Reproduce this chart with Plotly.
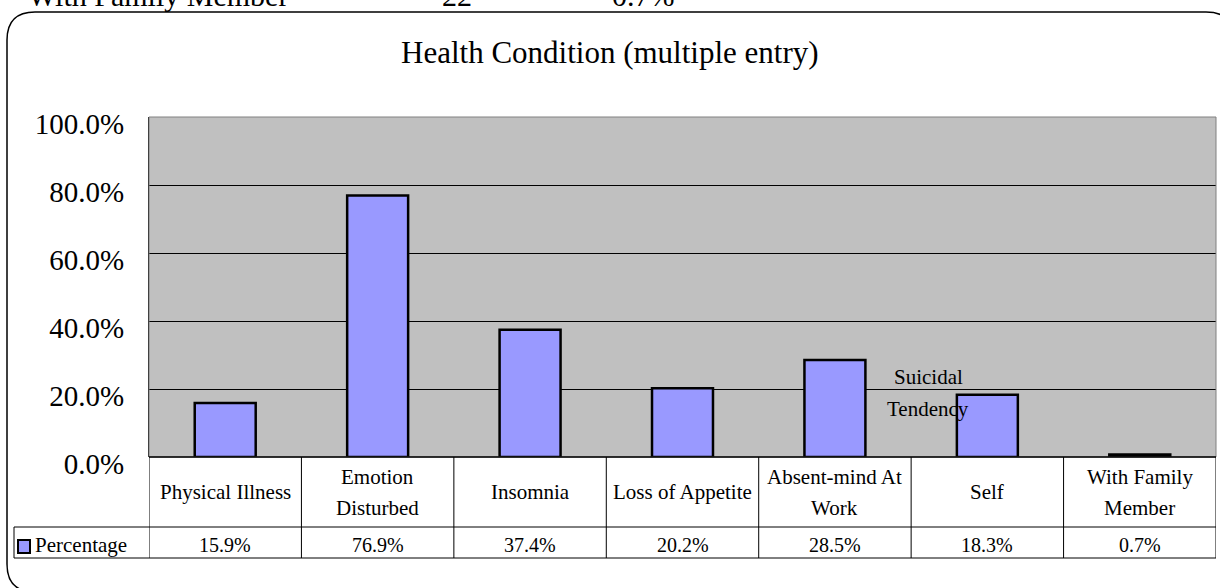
import plotly.graph_objects as go

# ---------------- data ----------------
categories = ["Physical Illness", "Emotion\nDisturbed", "Insomnia", "Loss of Appetite",
              "Absent-mind At\nWork", "Self", "With Family\nMember"]
percentage = [15.9, 76.9, 37.4, 20.2, 28.5, 18.3, 0.7]
series_name = "Percentage"
title_text = "Health Condition (multiple entry)"
y_ticks = [0, 20, 40, 60, 80, 100]
y_tick_labels = [f"{v:.1f}%" for v in y_ticks]
stray_label = ["Suicidal", "Tendency"]
top_row_texts = ["With Family Member", "22", "0.7%"]

# ---------------- geometry (pixels) ----------------
W, H = 1220, 588
L, R, T, B = 149, 1216, 117, 457
PW, PH = R - L, B - T
FONT = "Liberation Serif, Times New Roman, serif"
BAR_FILL = "#9999FF"


def xp(px):
    return (px - L) / PW


def yp(py):
    return (B - py) / PH


fig = go.Figure()
fig.add_trace(go.Bar(
    x=list(range(len(categories))), y=percentage, name=series_name,
    marker=dict(color=BAR_FILL, line=dict(color="black", width=2.5)),
    width=0.4, showlegend=False, hoverinfo="skip",
))

shapes = []
annotations = []

# plot frame (gray)
shapes.append(dict(type="rect", xref="paper", yref="paper", x0=0, x1=1, y0=0, y1=1,
                   line=dict(color="#808080", width=1), layer="above"))

# ---------------- data table ----------------
ROW1_TOP, ROW1_BOT, ROW2_BOT = B, 527, 558
LEG_LEFT = 14
LINE = dict(color="black", width=1)
shapes.append(dict(type="line", xref="paper", yref="paper", x0=0, x1=1,
                   y0=yp(ROW1_TOP), y1=yp(ROW1_TOP), line=dict(color="black", width=1.5)))
for yy in (ROW1_BOT, ROW2_BOT):
    shapes.append(dict(type="line", xref="paper", yref="paper", x0=xp(LEG_LEFT), x1=1,
                       y0=yp(yy), y1=yp(yy), line=LINE))
for i in range(len(categories) + 1):
    shapes.append(dict(type="line", xref="x", yref="paper", x0=i - 0.5, x1=i - 0.5,
                       y0=yp(ROW1_TOP), y1=yp(ROW2_BOT), line=LINE))
shapes.append(dict(type="line", xref="paper", yref="paper", x0=xp(LEG_LEFT), x1=xp(LEG_LEFT),
                   y0=yp(ROW1_BOT), y1=yp(ROW2_BOT), line=LINE))

LINE_GAP = 31
LBL_FONT = dict(family=FONT, size=21, color="black")
VAL_FONT = dict(family=FONT, size=20, color="black")
for i, cat in enumerate(categories):
    parts = cat.split("\n")
    c = (ROW1_TOP + ROW1_BOT) / 2
    start = c - LINE_GAP * (len(parts) - 1) / 2
    for k, part in enumerate(parts):
        annotations.append(dict(xref="x", yref="paper", x=i, y=yp(start + k * LINE_GAP),
                                text=part, showarrow=False, font=LBL_FONT,
                                xanchor="center", yanchor="middle"))
    annotations.append(dict(xref="x", yref="paper", x=i, y=yp(545),
                            text=f"{percentage[i]:.1f}%", showarrow=False, font=VAL_FONT,
                            xanchor="center", yanchor="middle"))

# legend key in table
shapes.append(dict(type="rect", xref="paper", yref="paper", x0=xp(18), x1=xp(30),
                   y0=yp(553), y1=yp(540), fillcolor=BAR_FILL,
                   line=dict(color="black", width=2)))
annotations.append(dict(xref="paper", yref="paper", x=xp(33), y=yp(545),
                        text=series_name, showarrow=False, font=LBL_FONT,
                        xanchor="left", yanchor="middle"))

# stray label inside plot
annotations.append(dict(xref="paper", yref="paper", x=xp(928), y=yp(377), text=stray_label[0],
                        showarrow=False, font=LBL_FONT, xanchor="center", yanchor="middle"))
annotations.append(dict(xref="paper", yref="paper", x=xp(928), y=yp(409), text=stray_label[1],
                        showarrow=False, font=LBL_FONT, xanchor="center", yanchor="middle"))

# title
annotations.append(dict(xref="paper", yref="paper", x=xp(610), y=yp(52), text=title_text,
                        showarrow=False, font=dict(family=FONT, size=31, color="black"),
                        xanchor="center", yanchor="middle"))

# clipped text line above the frame
top_x = [26, 440, 610]
for txt, px in zip(top_row_texts, top_x):
    annotations.append(dict(xref="paper", yref="paper", x=xp(px), y=yp(-4), text=txt,
                            showarrow=False, font=dict(family=FONT, size=30, color="black"),
                            xanchor="left", yanchor="middle"))

# rounded outer frame
fl, ft, fr, fb, rad = 7, 12, 1234, 592, 28
path = (f"M {xp(fl)},{yp(ft + rad)} "
        f"Q {xp(fl)},{yp(ft)} {xp(fl + rad)},{yp(ft)} "
        f"L {xp(fr - rad)},{yp(ft)} "
        f"Q {xp(fr)},{yp(ft)} {xp(fr)},{yp(ft + rad)} "
        f"L {xp(fr)},{yp(fb - rad)} "
        f"Q {xp(fr)},{yp(fb)} {xp(fr - rad)},{yp(fb)} "
        f"L {xp(fl + rad)},{yp(fb)} "
        f"Q {xp(fl)},{yp(fb)} {xp(fl)},{yp(fb - rad)} Z")
shapes.append(dict(type="path", xref="paper", yref="paper", path=path,
                   line=dict(color="black", width=1.5)))

fig.update_layout(
    width=W, height=H,
    margin=dict(l=L, r=W - R, t=T, b=H - B, pad=0),
    paper_bgcolor="white", plot_bgcolor="#C0C0C0",
    showlegend=False, bargap=0.6,
    shapes=shapes, annotations=annotations,
    xaxis=dict(range=[-0.5, len(categories) - 0.5], showticklabels=False, showgrid=False,
               zeroline=False, ticks="", fixedrange=True),
    yaxis=dict(range=[0, 100], tickvals=y_ticks, ticktext=y_tick_labels,
               showgrid=True, gridcolor="black", gridwidth=1, zeroline=False,
               showline=True, linecolor="black", linewidth=1,
               ticks="", ticklabelstandoff=18, ticklabelshift=7,
               tickfont=dict(family=FONT, size=29, color="black"), fixedrange=True),
)

fig.write_html("out.html", config={"displayModeBar": False},
               post_script="document.body.style.margin='0';document.body.style.overflow='hidden';")
